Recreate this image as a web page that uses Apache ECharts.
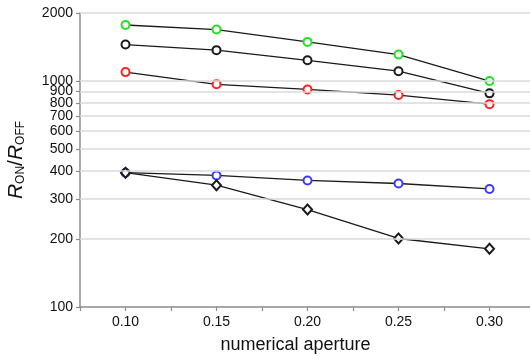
<!DOCTYPE html>
<html>
<head>
<meta charset="utf-8">
<script src="https://cdn.jsdelivr.net/npm/echarts@6/dist/echarts.min.js"></script>
<style>
  html, body { margin: 0; padding: 0; background: #fff; }
  #main { width: 530px; height: 356px; }
</style>
</head>
<body>
<div id="main"></div>
<script>
// numerical aperture values
var apertures = [0.10, 0.15, 0.20, 0.25, 0.30];
var xLabels = ['0.10', '0.15', '0.20', '0.25', '0.30'];
var yTicks = [100, 200, 300, 400, 500, 600, 700, 800, 900, 1000, 2000];

// R_ON / R_OFF
var greenSeries = [1770, 1690, 1490, 1310, 1000];
var blackSeries = [1450, 1370, 1235, 1105, 882];
var redSeries   = [1095, 967, 918, 867, 790];
var blueSeries  = [393, 382, 363, 352, 333];
var diamondSeries = [393, 346, 270, 201, 181];

function pairs(vals) {
    return apertures.map(function (x, i) { return [x, vals[i]]; });
}

var chartDom = document.getElementById('main');
var myChart = echarts.init(chartDom, null, {renderer: 'canvas'});

var font = 'Liberation Sans, Arial, sans-serif';

function circleSeries(vals, color) {
    return {
        type: 'line',
        data: pairs(vals),
        symbol: 'emptyCircle',
        symbolSize: 8,
        lineStyle: {color: '#1a1a1a', width: 1.3},
        itemStyle: {color: color, borderColor: color, borderWidth: 1.6},
        z: 3
    };
}

var option = {
    backgroundColor: '#fff',
    animation: false,
    grid: {left: 80, right: -5, top: 13, bottom: 49, containLabel: false, outerBoundsMode: 'none'},
    xAxis: {
        type: 'value',
        min: 0.075,
        max: 0.325,
        interval: 0.025,
        name: 'numerical aperture',
        nameLocation: 'middle',
        nameGap: 29,
        nameTextStyle: {fontFamily: font, fontSize: 18, color: '#111', padding: [0, 24, 0, 0]},
        axisLine: {lineStyle: {color: '#8c8c8c', width: 1.5}},
        axisTick: {show: true, inside: false, length: 4, lineStyle: {color: '#8c8c8c', width: 1.2}},
        axisLabel: {
            fontFamily: font, fontSize: 14, color: '#111', margin: 8,
            formatter: function (v) {
                var s = v.toFixed(2);
                return xLabels.indexOf(s) >= 0 ? s : '';
            }
        },
        splitLine: {show: false}
    },
    yAxis: {
        type: 'log',
        logBase: 10,
        min: 100,
        max: 2000,
        name: '{i|R}{s|ON}{t|/}{i|R}{s|OFF}',
        nameLocation: 'middle',
        nameGap: 53,
        nameTextStyle: {
            fontFamily: font, color: '#111',
            rich: {
                i: {fontFamily: font, fontSize: 21, fontStyle: 'italic', color: '#111'},
                t: {fontFamily: font, fontSize: 21, color: '#111'},
                s: {fontFamily: font, fontSize: 12, color: '#111', verticalAlign: 'bottom', padding: [9, 0, 0, 0]}
            }
        },
        axisLine: {show: true, lineStyle: {color: '#8c8c8c', width: 1.5}},
        axisTick: {show: true, inside: false, length: 4, customValues: yTicks, lineStyle: {color: '#8c8c8c', width: 1.2}},
        axisLabel: {
            fontFamily: font, fontSize: 14, color: '#111', margin: 7,
            customValues: yTicks,
            formatter: function (v) { return String(Math.round(v)); }
        },
        splitLine: {show: false}
    },
    series: [
        {
            // horizontal grid lines at every labelled value
            type: 'line',
            data: [],
            silent: true,
            z: 1,
            markLine: {
                silent: true,
                symbol: ['none', 'none'],
                label: {show: false},
                lineStyle: {color: '#dadada', width: 1.5, type: 'solid'},
                data: yTicks.filter(function (v) { return v > 100; }).map(function (v) { return {yAxis: v}; })
            }
        },
        circleSeries(greenSeries, '#22e022'),
        circleSeries(blackSeries, '#1a1a1a'),
        circleSeries(redSeries, '#ff2020'),
        circleSeries(blueSeries, '#3a3aff'),
        {
            type: 'line',
            data: pairs(diamondSeries),
            symbol: 'emptyDiamond',
            symbolSize: [9, 10],
            lineStyle: {color: '#1a1a1a', width: 1.3},
            itemStyle: {color: '#1a1a1a', borderColor: '#1a1a1a', borderWidth: 1.5},
            z: 4
        }
    ]
};

option && myChart.setOption(option);
</script>
</body>
</html>
